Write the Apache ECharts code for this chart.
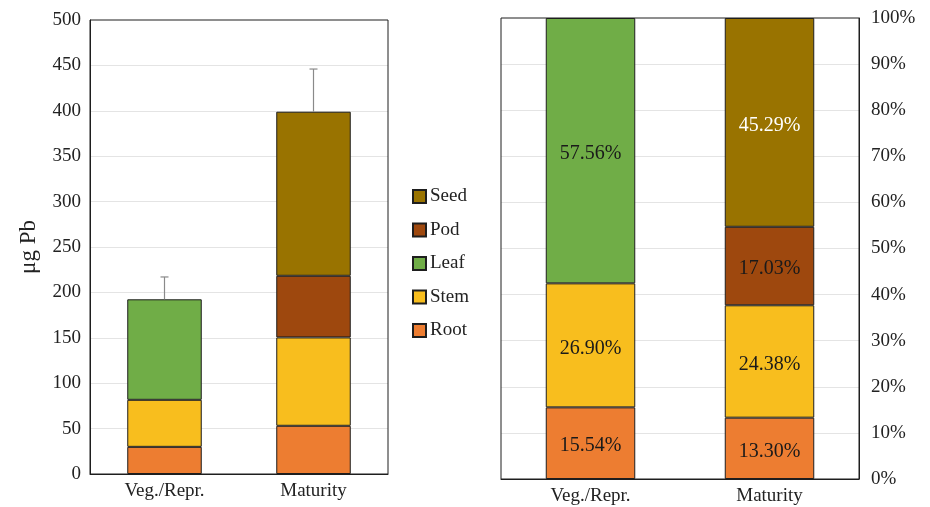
<!DOCTYPE html>
<html>
<head>
<meta charset="utf-8">
<script src="https://cdn.jsdelivr.net/npm/echarts@6/dist/echarts.min.js"></script>
<style>
  html, body { margin: 0; padding: 0; background: #fff; }
  #chart { width: 930px; height: 507px; }
</style>
</head>
<body>
<div id="chart"></div>
<script>
// Growth stages on the x axis
const stages = ['Veg./Repr.', 'Maturity'];

// Pb content per organ, µg (absolute, left panel)
const rootUg = [29.9, 53.1];
const stemUg = [51.8, 97.3];
const leafUg = [110.7, null];
const podUg  = [null, 67.9];
const seedUg = [null, 180.7];
// Upper end of the error bar on each total, µg
const errTopUg = [217, 446];

// Share of each organ in the total, % (right panel)
const rootPct = [15.54, 13.30];
const stemPct = [26.90, 24.38];
const leafPct = [57.56, null];
const podPct  = [null, 17.03];
const seedPct = [null, 45.29];

// Tick values for the two value axes
const ugTicks  = [0, 50, 100, 150, 200, 250, 300, 350, 400, 450, 500];
const pctTicks = [0, 10, 20, 30, 40, 50, 60, 70, 80, 90, 100];

const organs = [
  { name: 'Root', color: '#ED7D31', ug: rootUg, pct: rootPct, labelColor: '#1a1a1a' },
  { name: 'Stem', color: '#F8BE1E', ug: stemUg, pct: stemPct, labelColor: '#1a1a1a' },
  { name: 'Leaf', color: '#70AD47', ug: leafUg, pct: leafPct, labelColor: '#1a1a1a' },
  { name: 'Pod',  color: '#9E480E', ug: podUg,  pct: podPct,  labelColor: '#1a1a1a' },
  { name: 'Seed', color: '#997300', ug: seedUg, pct: seedPct, labelColor: '#ffffff' }
];

const FONT = 'Liberation Serif';
const TXT = '#222';
const FRAME = '#1e1e1e';

const totals = stages.map((_, i) =>
  organs.reduce((s, o) => s + (o.ug[i] || 0), 0));

const series = [];
organs.forEach(o => {
  series.push({
    name: o.name, type: 'bar', stack: 'abs',
    xAxisIndex: 0, yAxisIndex: 0,
    barWidth: '50%',
    itemStyle: { color: o.color, borderColor: FRAME, borderWidth: 1 },
    emphasis: { disabled: true },
    data: o.ug
  });
  series.push({
    name: o.name, type: 'bar', stack: 'pct',
    xAxisIndex: 1, yAxisIndex: 1,
    barWidth: '50%',
    itemStyle: { color: o.color, borderColor: FRAME, borderWidth: 1 },
    emphasis: { disabled: true },
    label: {
      show: true, position: 'inside', offset: [0, 3],
      fontFamily: FONT, fontSize: 20, color: o.labelColor,
      formatter: p => (p.value == null ? '' : p.value.toFixed(2) + '%')
    },
    data: o.pct
  });
});

// Upper error whiskers on the stacked totals
series.push({
  type: 'custom',
  xAxisIndex: 0, yAxisIndex: 0,
  z: 10,
  silent: true,
  data: stages.map((_, i) => [i, totals[i], errTopUg[i]]),
  renderItem: (params, api) => {
    const base = api.coord([api.value(0), api.value(1)]);
    const top = api.coord([api.value(0), api.value(2)]);
    const cap = 4;
    const st = { stroke: '#8a8a8a', lineWidth: 1.2 };
    return {
      type: 'group',
      children: [
        { type: 'line', shape: { x1: base[0], y1: base[1], x2: top[0], y2: top[1] }, style: st },
        { type: 'line', shape: { x1: top[0] - cap, y1: top[1], x2: top[0] + cap, y2: top[1] }, style: st }
      ]
    };
  }
});

const chart = echarts.init(document.getElementById('chart'));
chart.setOption({
  animation: false,
  backgroundColor: '#ffffff',
  textStyle: { fontFamily: FONT },
  legend: {
    orient: 'vertical',
    left: 412, top: 187,
    padding: 0,
    itemWidth: 13, itemHeight: 13, itemGap: 14.5,
    icon: 'rect',
    selectedMode: false,
    textStyle: { fontFamily: FONT, fontSize: 19, color: TXT, padding: [0, 0, 0, -1] },
    data: ['Seed', 'Pod', 'Leaf', 'Stem', 'Root']
  },
  grid: [
    { left: 90, right: 542, top: 20, bottom: 33, show: true, borderColor: FRAME, borderWidth: 1, z: 3 },
    { left: 501, right: 71, top: 18, bottom: 28, show: true, borderColor: FRAME, borderWidth: 1, z: 3 }
  ],
  xAxis: [
    {
      type: 'category', gridIndex: 0, data: stages,
      axisLine: { lineStyle: { color: FRAME } },
      axisTick: { show: false },
      axisLabel: { fontFamily: FONT, fontSize: 19, color: TXT, margin: 8 }
    },
    {
      type: 'category', gridIndex: 1, data: stages,
      axisLine: { lineStyle: { color: FRAME } },
      axisTick: { show: false },
      axisLabel: { fontFamily: FONT, fontSize: 19, color: TXT, margin: 8 }
    }
  ],
  yAxis: [
    {
      type: 'value', gridIndex: 0,
      min: ugTicks[0], max: ugTicks[ugTicks.length - 1], interval: ugTicks[1] - ugTicks[0],
      name: 'μg Pb', nameLocation: 'middle', nameGap: 50, nameRotate: 90,
      nameTextStyle: { fontFamily: FONT, fontSize: 23, color: TXT },
      axisLine: { show: true, lineStyle: { color: FRAME } },
      axisTick: { show: false },
      axisLabel: { fontFamily: FONT, fontSize: 19, color: TXT, margin: 9 },
      splitLine: { showMinLine: false, showMaxLine: false, lineStyle: { color: '#e4e4e4', width: 1 } }
    },
    {
      type: 'value', gridIndex: 1, position: 'right',
      min: pctTicks[0], max: pctTicks[pctTicks.length - 1], interval: pctTicks[1] - pctTicks[0],
      axisLine: { show: true, lineStyle: { color: FRAME } },
      axisTick: { show: false },
      axisLabel: { fontFamily: FONT, fontSize: 19, color: TXT, margin: 12, formatter: '{value}%' },
      splitLine: { showMinLine: false, showMaxLine: false, lineStyle: { color: '#e4e4e4', width: 1 } }
    }
  ],
  series: series
});
</script>
</body>
</html>
